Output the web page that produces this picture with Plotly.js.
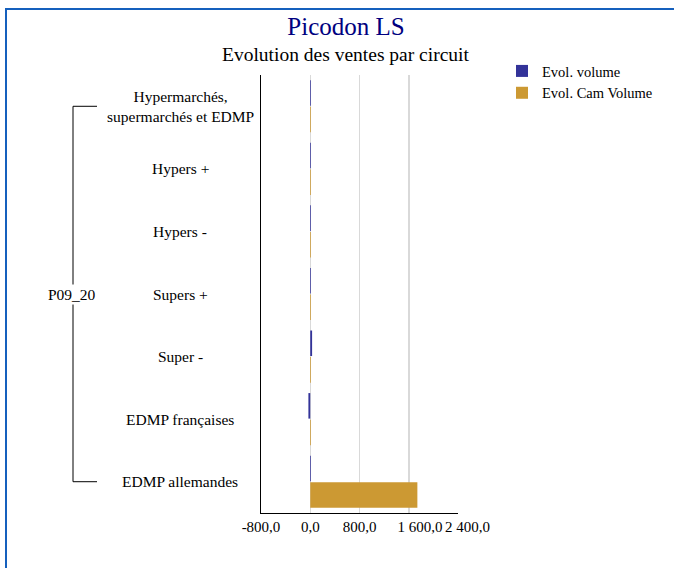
<!DOCTYPE html>
<html>
<head>
<meta charset="utf-8">
<script src="https://cdn.plot.ly/plotly-3.0.1.min.js"></script>
<style>html,body{margin:0;padding:0;background:#fff;}#chart{width:674px;height:568px;}</style>
</head>
<body>
<div id="chart"></div>
<script>
var categories = ["Hypermarchés,<br>supermarchés et EDMP", "Hypers +", "Hypers -", "Supers +", "Super -", "EDMP françaises", "EDMP allemandes"];
var groupLabel = "P09_20";
var evolVolume = [12, 12, 12, 12, 30, -30, 12];
var evolCamVolume = [12, 12, 12, 12, 12, 12, 1740];
var seriesNames = ["Evol. volume", "Evol. Cam Volume"];
var xTicks = [-800, 0, 800, 1600, 2400];
var xTickText = ["-800,0", "0,0", "800,0", "\u00a0\u00a0\u00a0\u00a0\u00a0\u00a01\u00a0600,0", "\u00a0\u00a0\u00a0\u00a0\u00a02\u00a0400,0"];

var FONT = "Liberation Serif, Times New Roman, serif";
var L = 261, R = 458, T = 75, B = 513, W = 674, H = 568;
function px(x){ return (x - L) / (R - L); }
function py(y){ return (B - y) / (B - T); }

var traces = [
  {type:"bar", orientation:"h", name:seriesNames[0], y:categories, x:evolVolume, marker:{color:"#333399", line:{width:0}}},
  {type:"bar", orientation:"h", name:seriesNames[1], y:categories, x:evolCamVolume, marker:{color:"#CC9933", line:{width:0}}}
];

var annotations = categories.map(function(c){
  return {xref:"paper", yref:"y", x:px(180), y:c, text:c, showarrow:false, xanchor:"center", yanchor:"middle",
          font:{family:FONT, size:15.5, color:"#000"}, align:"center"};
});
annotations.push({xref:"paper", yref:"y", x:px(72), y:categories[3], text:groupLabel, showarrow:false,
  xanchor:"center", yanchor:"middle", bgcolor:"#fff", font:{family:FONT, size:15.5, color:"#000"}});
annotations.push({xref:"paper", yref:"paper", x:px(346), y:py(55), text:"Evolution des ventes par circuit", showarrow:false,
  xanchor:"center", yanchor:"middle", font:{family:FONT, size:19.5, color:"#000"}});

var shapes = [
  {type:"line", xref:"paper", yref:"y", x0:px(73), x1:px(73), y0:categories[0], y1:categories[6], line:{color:"#000", width:1}},
  {type:"line", xref:"paper", yref:"y", x0:px(73), x1:px(97), y0:categories[0], y1:categories[0], line:{color:"#000", width:1}},
  {type:"line", xref:"paper", yref:"y", x0:px(73), x1:px(97), y0:categories[6], y1:categories[6], line:{color:"#000", width:1}},
  {type:"line", xref:"paper", yref:"paper", x0:px(6), x1:px(6), y0:py(8), y1:py(580), line:{color:"#1560BD", width:2}},
  {type:"line", xref:"paper", yref:"paper", x0:px(5), x1:px(690), y0:py(9), y1:py(9), line:{color:"#1560BD", width:2}}
];

var layout = {
  width:W, height:H,
  margin:{l:L, r:W-R, t:T, b:H-B, pad:0},
  paper_bgcolor:"#fff", plot_bgcolor:"#fff",
  separators:", ",
  font:{family:FONT, size:14, color:"#000"},
  title:{text:"Picodon LS", font:{family:FONT, size:25, color:"#000080"}, x:px(346), xref:"paper", xanchor:"center", y:1-26/H, yanchor:"middle"},
  barmode:"group", bargap:0.15, bargroupgap:0.04,
  xaxis:{range:[-800, 2400], tickvals:xTicks, ticktext:xTickText, tickangle:0, showgrid:true, gridcolor:"#d9d9d9", gridwidth:1.5,
         zeroline:true, zerolinecolor:"#d9d9d9", zerolinewidth:1.5, automargin:false,
         showline:true, linecolor:"#000", linewidth:1, ticks:"", tickfont:{family:FONT, size:15, color:"#000"}, fixedrange:true},
  yaxis:{type:"category", autorange:"reversed", showticklabels:false, showgrid:false, zeroline:false,
         showline:true, linecolor:"#000", linewidth:1, ticks:"", fixedrange:true},
  legend:{x:px(502), y:py(55), xanchor:"left", yanchor:"top", font:{family:FONT, size:14.5, color:"#000"},
          bgcolor:"rgba(0,0,0,0)", tracegroupgap:0},
  showlegend:true,
  annotations:annotations,
  shapes:shapes
};

Plotly.newPlot("chart", traces, layout, {displayModeBar:false, staticPlot:true});
</script>
</body>
</html>
